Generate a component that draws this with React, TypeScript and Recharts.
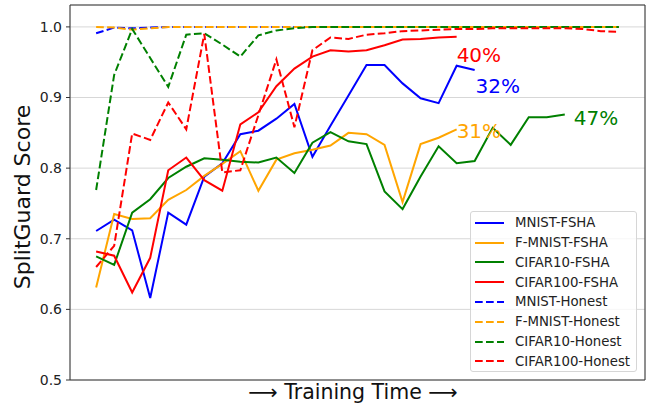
import { LineChart, Line, XAxis, YAxis, CartesianGrid, ReferenceLine, ReferenceDot } from "recharts";

// training steps (x axis has no labels, grid every 5 steps)
const steps = [0, 1, 2, 3, 4, 5, 6, 7, 8, 9, 10, 11, 12, 13, 14, 15, 16, 17, 18, 19, 20, 21, 22, 23, 24, 25, 26, 27, 28, 29];

const mnistFsha = [0.711, 0.727, 0.712, 0.616, 0.737, 0.72, 0.788, 0.807, 0.848, 0.853, 0.87, 0.891, 0.816, 0.86, 0.903, 0.946, 0.946, 0.92, 0.899, 0.892, 0.945, 0.939];
const fmnistFsha = [0.631, 0.735, 0.728, 0.729, 0.755, 0.769, 0.789, 0.806, 0.824, 0.768, 0.812, 0.821, 0.826, 0.832, 0.85, 0.848, 0.833, 0.752, 0.834, 0.843, 0.855];
const cifar10Fsha = [0.675, 0.663, 0.737, 0.756, 0.786, 0.802, 0.814, 0.812, 0.809, 0.808, 0.815, 0.793, 0.836, 0.851, 0.838, 0.834, 0.767, 0.742, 0.788, 0.831, 0.807, 0.81, 0.857, 0.833, 0.872, 0.872, 0.876];
const cifar100Fsha = [0.682, 0.676, 0.624, 0.673, 0.797, 0.815, 0.783, 0.768, 0.862, 0.879, 0.916, 0.941, 0.958, 0.967, 0.965, 0.967, 0.974, 0.982, 0.983, 0.985, 0.986];

const mnistHonest = [0.991, 0.999, 0.998, 0.999, 1, 1, 1, 1, 1, 1, 1, 1, 1, 1, 1, 1, 1, 1, 1, 1, 1, 1, 1, 1, 1, 1, 1, 1, 1, 1];
const fmnistHonest = [1, 0.999, 0.996, 0.998, 1, 1, 1, 1, 1, 1, 1, 1, 1, 1, 1, 1, 1, 1, 1, 1, 1, 1, 1, 1, 1, 1, 1, 1, 1, 1];
const cifar10Honest = [0.769, 0.932, 0.997, 0.956, 0.915, 0.989, 0.991, 0.975, 0.958, 0.988, 0.995, 0.998, 1, 1, 1, 1, 1, 1, 1, 1, 1, 1, 1, 1, 1, 1, 1, 1, 1, 1];
const cifar100Honest = [0.66, 0.69, 0.849, 0.84, 0.893, 0.855, 0.99, 0.794, 0.797, 0.875, 0.954, 0.858, 0.967, 0.985, 0.983, 0.989, 0.991, 0.994, 0.995, 0.996, 0.997, 0.997, 0.998, 0.998, 0.998, 0.998, 0.998, 0.997, 0.994, 0.993];

const yTicks = [0.5, 0.6, 0.7, 0.8, 0.9, 1.0];
const xGrid = [0, 5, 10, 15, 20, 25, 30];

const series = [
  { key: "mnistFsha", name: "MNIST-FSHA", color: "#0000ff", dashed: false },
  { key: "fmnistFsha", name: "F-MNIST-FSHA", color: "#ffa500", dashed: false },
  { key: "cifar10Fsha", name: "CIFAR10-FSHA", color: "#008000", dashed: false },
  { key: "cifar100Fsha", name: "CIFAR100-FSHA", color: "#ff0000", dashed: false },
  { key: "mnistHonest", name: "MNIST-Honest", color: "#0000ff", dashed: true },
  { key: "fmnistHonest", name: "F-MNIST-Honest", color: "#ffa500", dashed: true },
  { key: "cifar10Honest", name: "CIFAR10-Honest", color: "#008000", dashed: true },
  { key: "cifar100Honest", name: "CIFAR100-Honest", color: "#ff0000", dashed: true },
];

// final accuracy annotations next to the curve ends
const notes = [
  { text: "40%", x: 20, y: 0.95, color: "#ff0000" },
  { text: "32%", x: 21.05, y: 0.906, color: "#0000ff" },
  { text: "31%", x: 20, y: 0.842, color: "#ffa500" },
  { text: "47%", x: 26.5, y: 0.861, color: "#008000" },
];

const data = steps.map((s, i) => ({
  step: s,
  mnistFsha: mnistFsha[i],
  fmnistFsha: fmnistFsha[i],
  cifar10Fsha: cifar10Fsha[i],
  cifar100Fsha: cifar100Fsha[i],
  mnistHonest: mnistHonest[i],
  fmnistHonest: fmnistHonest[i],
  cifar10Honest: cifar10Honest[i],
  cifar100Honest: cifar100Honest[i],
}));

const FONT = "DejaVu Sans, sans-serif";
const DASH = "7.7 3.3";

const noteLabel = (text: string, color: string) => (props: any) => {
  const vb = props.viewBox || {};
  return (
    <text x={vb.x} y={vb.y} fill={color} fontSize={20} fontFamily={FONT}>
      {text}
    </text>
  );
};

export default function App() {
  return (
    <div style={{ position: "absolute", left: 0, top: 0, width: 647, height: 404, background: "#fff", fontFamily: FONT }}>
      <LineChart width={647} height={404} data={data} margin={{ top: 5, right: 2, bottom: 0, left: 0 }}>
        <CartesianGrid stroke="#cdcdcd" strokeWidth={0.8} />
        <XAxis
          dataKey="step"
          type="number"
          domain={[-1.45, 30.45]}
          ticks={xGrid}
          allowDataOverflow
          tick={false}
          tickLine={false}
          height={24}
          axisLine={{ stroke: "#333", strokeWidth: 1 }}
        />
        <YAxis
          type="number"
          domain={[0.5, 1.031]}
          ticks={yTicks}
          allowDataOverflow
          width={70}
          tickFormatter={(v: number) => v.toFixed(1)}
          tick={{ fill: "#222", fontSize: 14, fontFamily: FONT }}
          tickSize={4}
          tickMargin={4}
          tickLine={{ stroke: "#333" }}
          axisLine={{ stroke: "#333", strokeWidth: 1 }}
        />
        <ReferenceLine y={1.031} stroke="#333" strokeWidth={1} />
        <ReferenceLine x={30.45} stroke="#333" strokeWidth={1} />
        {series.map((s) => (
          <Line
            key={s.key}
            type="linear"
            dataKey={s.key}
            name={s.name}
            stroke={s.color}
            strokeWidth={2}
            strokeDasharray={s.dashed ? DASH : undefined}
            dot={false}
            activeDot={false}
            isAnimationActive={false}
          />
        ))}
        {notes.map((n) => (
          <ReferenceDot
            key={n.text}
            x={n.x}
            y={n.y}
            r={0}
            fill="none"
            stroke="none"
            label={{ content: noteLabel(n.text, n.color) }}
          />
        ))}
      </LineChart>

      <svg width={647} height={404} style={{ position: "absolute", left: 0, top: 0, pointerEvents: "none" }}>
        <text transform="translate(30,197) rotate(-90)" textAnchor="middle" fontSize={22} fontFamily={FONT} fill="#111">
          SplitGuard Score
        </text>
        <text x={353} y={398.5} textAnchor="middle" fontSize={20.5} fontFamily={FONT} fill="#111">
          ⟶ Training Time ⟶
        </text>
      </svg>

      <div
        style={{
          position: "absolute",
          left: 470,
          top: 211,
          width: 167,
          height: 161,
          background: "rgba(255,255,255,0.8)",
          border: "1px solid #d6d6d6",
          borderRadius: 3,
          boxSizing: "border-box",
        }}
      >
        {series.map((s, i) => (
          <div
            key={s.key}
            style={{ position: "absolute", left: 0, top: 0.7 + i * 19.8, height: 20, width: 165, display: "flex", alignItems: "center" }}
          >
            <svg width={44} height={20}>
              <line x1={4} y1={10} x2={33} y2={10} stroke={s.color} strokeWidth={2} strokeDasharray={s.dashed ? DASH : undefined} />
            </svg>
            <span style={{ fontSize: 13.3, color: "#222", fontFamily: FONT, whiteSpace: "nowrap" }}>{s.name}</span>
          </div>
        ))}
      </div>
    </div>
  );
}
